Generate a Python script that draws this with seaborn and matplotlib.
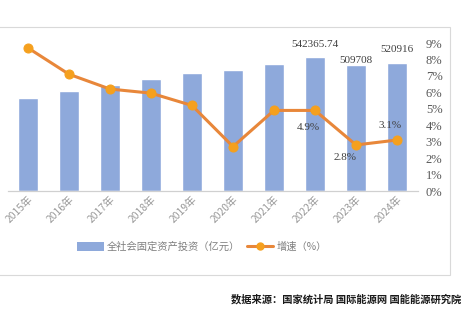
import matplotlib
matplotlib.use("Agg")
import matplotlib.pyplot as plt
import seaborn as sns
import pandas as pd
from matplotlib.patches import Rectangle, Patch
from matplotlib.lines import Line2D

years = ["2015年", "2016年", "2017年", "2018年", "2019年",
         "2020年", "2021年", "2022年", "2023年", "2024年"]
investment = [378800, 405700, 431000, 455100, 479200,
              491300, 515400, 542365.74, 509708, 520916]
growth = [8.7, 7.1, 6.2, 5.95, 5.2, 2.7, 4.9, 4.9, 2.8, 3.1]
value_labels = {7: "542365.74", 8: "509708", 9: "520916"}
growth_labels = {7: "4.9%", 8: "2.8%", 9: "3.1%"}
pct_ticks = ["0%", "1%", "2%", "3%", "4%", "5%", "6%", "7%", "8%", "9%"]

bar_color = "#8EA9DB"
line_color = "#E8873A"
marker_color = "#F5A01E"
text_gray = "#595959"

sns.set_theme(style="white")
plt.rcParams["font.family"] = ["Noto Sans CJK SC", "DejaVu Sans"]

W, H = 463, 326
fig = plt.figure(figsize=(W / 100, H / 100), dpi=100)

# light frame around the chart area
fig.add_artist(Rectangle((-0.01, (H - 275) / H), 450 / W + 0.01, (275 - 27) / H,
                         transform=fig.transFigure, fill=False,
                         edgecolor="#d9d9d9", linewidth=0.8))

ax = fig.add_axes([7.5 / W, (H - 191) / H, 410 / W, 148 / H])
df = pd.DataFrame({"year": years, "investment": investment, "growth": growth})

sns.barplot(data=df, x="year", y="investment", color=bar_color,
            width=0.47, saturation=1, ax=ax)
ax.set_xlim(-0.5, 9.5)
ax.set_ylim(0, 600000)
ax.set_yticks([])
ax.set_xlabel("")
ax.set_ylabel("")
for s in ["top", "right", "left"]:
    ax.spines[s].set_visible(False)
ax.spines["bottom"].set_color("#d0d0d0")
ax.spines["bottom"].set_linewidth(0.9)
ax.tick_params(axis="x", length=0, pad=2)
ax.set_xticks(range(len(years)))
ax.set_xticklabels(years, rotation=45, ha="right", rotation_mode="anchor",
                   fontsize=7.4, color="#999999")

label_offsets = {7: 6, 8: 0.5, 9: 6}
for i, txt in value_labels.items():
    ax.annotate(txt, (i, investment[i]), xytext=(0, label_offsets[i]),
                textcoords="offset points", ha="center", va="bottom",
                fontsize=8, family="Liberation Serif", color="#404040")

ax2 = ax.twinx()
sns.lineplot(x=list(range(len(growth))), y=growth, ax=ax2, color=line_color,
             linewidth=2.2, marker="o", markersize=6.5,
             markerfacecolor=marker_color, markeredgecolor=marker_color)
ax2.set_xlim(-0.5, 9.5)
ax2.set_ylim(0, 9)
ax2.set_yticks(range(10))
ax2.set_yticklabels(pct_ticks, family="Liberation Serif", fontsize=9, color=text_gray)
ax2.tick_params(axis="y", length=0, pad=6)
ax2.set_ylabel("")
for s in ["top", "right", "left", "bottom"]:
    ax2.spines[s].set_visible(False)

pct_offsets = {7: (-5, -9, "top"), 8: (-8, -6, "top"), 9: (-5, 7, "bottom")}
for i, txt in growth_labels.items():
    dx, dy, va = pct_offsets[i]
    ax2.annotate(txt, (i, growth[i]), xytext=(dx, dy), textcoords="offset points",
                 ha="center", va=va, fontsize=8, family="Liberation Serif",
                 color="#404040")

handles = [Patch(facecolor=bar_color, edgecolor="none"),
           Line2D([0], [0], color=line_color, linewidth=2.2, marker="o",
                  markersize=5, markerfacecolor=marker_color,
                  markeredgecolor=marker_color)]
fig.legend(handles, ["全社会固定资产投资（亿元）", "增速（%）"],
           loc="center", bbox_to_anchor=(202 / W, (H - 247) / H), ncol=2,
           frameon=False, fontsize=7.4, labelcolor="#7f7f7f",
           handlelength=2.6, handleheight=0.9, columnspacing=0.6, handletextpad=0.3)

fig.text(461 / W, (H - 299) / H, "数据来源：国家统计局 国际能源网 国能能源研究院",
         fontsize=7.4, fontweight="bold", color="#1a1a1a", va="center", ha="right")

fig.savefig("out.png", dpi=100, facecolor="white")
